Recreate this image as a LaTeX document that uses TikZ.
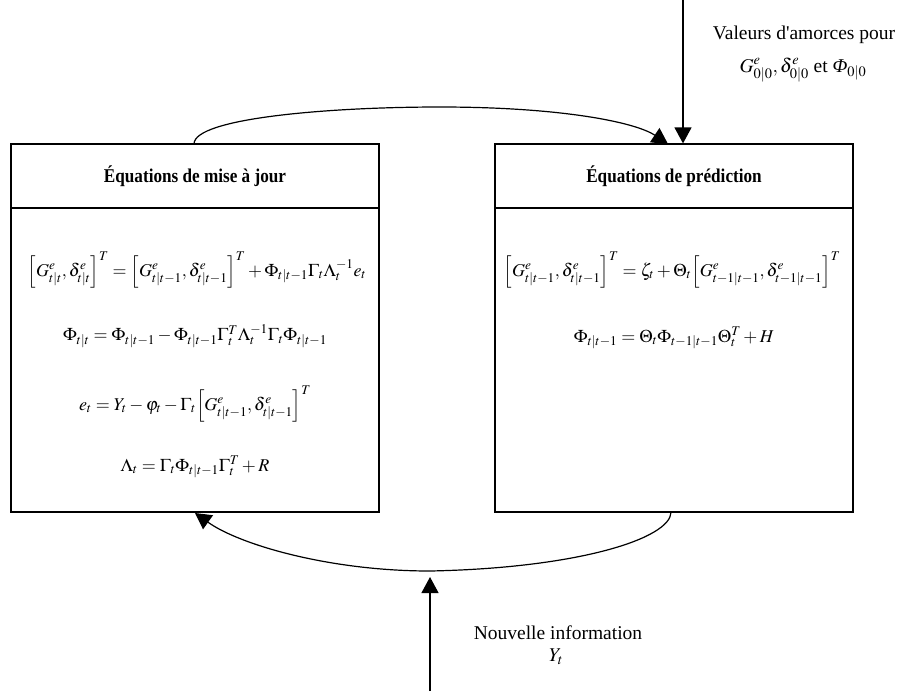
\documentclass[tikz,border=0pt]{standalone}
\usepackage{mathptmx}
\usepackage{fontspec}
\setmainfont{Liberation Serif}
\usetikzlibrary{arrows.meta,calc}
\begin{document}
\begin{tikzpicture}[x=1pt,y=-1pt,
  box/.style={draw, line width=1.2pt, inner sep=0pt},
  hdr/.style={box, minimum height=64pt, font=\fontsize{19.5}{22}\selectfont\bfseries},
  bodybox/.style={box, minimum height=304pt},
  eq/.style={inner sep=0pt, font=\fontsize{18}{21}\selectfont},
  lbl/.style={inner sep=0pt, font=\fontsize{19.5}{23}\selectfont},
  conn/.style={line width=1.2pt},
  tip/.style={-{Triangle[length=16pt,width=17pt]}}]
\useasboundingbox (0,0) rectangle (901,691);

% left box
\node[hdr, minimum width=368pt] (uh) at (195,176) {\scalebox{0.88}[1]{Équations de mise à jour}};
\node[bodybox, minimum width=368pt] (ub) at (195,360) {};
% right box
\node[hdr, minimum width=358pt] (ph) at (674,176) {\scalebox{0.88}[1]{Équations de prédiction}};
\node[bodybox, minimum width=358pt] (pb) at (674,360) {};

% equations left
\node[eq] (e1) at (197,270) {$\Big[G^e_{t|t},\delta^e_{t|t}\Big]^T=\Big[G^e_{t|t-1},\delta^e_{t|t-1}\Big]^T+\Phi_{t|t-1}\Gamma_t\Lambda_t^{-1}e_t$};
\node[eq] (e2) at (195,336) {$\Phi_{t|t}=\Phi_{t|t-1}-\Phi_{t|t-1}\Gamma_t^T\Lambda_t^{-1}\Gamma_t\Phi_{t|t-1}$};
\node[eq] (e3) at (195,404) {$e_t=Y_t-\varphi_t-\Gamma_t\Big[G^e_{t|t-1},\delta^e_{t|t-1}\Big]^T$};
\node[eq] (e4) at (195,467) {$\Lambda_t=\Gamma_t\Phi_{t|t-1}\Gamma_t^T+R$};
% equations right
\node[eq] (r1) at (672,270) {$\Big[G^e_{t|t-1},\delta^e_{t|t-1}\Big]^T=\zeta_t+\Theta_t\Big[G^e_{t-1|t-1},\delta^e_{t-1|t-1}\Big]^T$};
\node[eq] (r2) at (674,338) {$\Phi_{t|t-1}=\Theta_t\Phi_{t-1|t-1}\Theta_t^T+H$};

% labels
\node[lbl] (v1) at (804,35) {Valeurs d\textquotesingle amorces pour};
\node[lbl] (v2) at (803,70) {$G^e_{0|0},\delta^e_{0|0}$ et \textit{Φ}$_{0|0}$};
\node[lbl] (n1) at (558,633) {Nouvelle information};
\node[lbl] (n2) at (556,657) {$Y_t$};

% connectors
\coordinate (ts) at (194,144);
\coordinate (tm) at (440,107);
\coordinate (te) at (668,144);
\draw[conn,tip] (ts) .. controls (194,118) and (330,107) .. (tm)
  .. controls (560,107) and (635,122) .. (te);

\coordinate (vt) at (683,0);
\draw[conn,tip] (vt) -- (vt |- ph.north);

\coordinate (bs) at (671,512);
\coordinate (bm) at (430,571);
\coordinate (be) at (195,513);
\draw[conn,tip] (bs) .. controls (671,538) and (580,568) .. (bm)
  .. controls (330,571) and (240,545) .. (be);

\coordinate (ut) at (430,577);
\coordinate (ub0) at (430,691);
\draw[conn,tip] (ub0) -- (ut);
\end{tikzpicture}
\end{document}
